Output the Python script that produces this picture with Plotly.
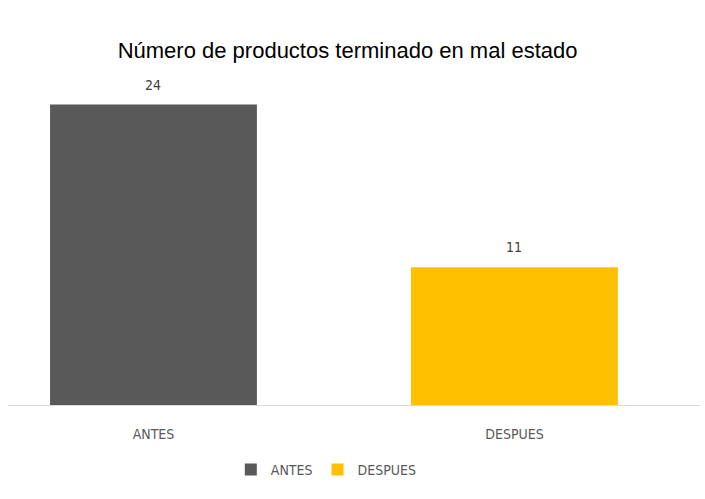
import plotly.graph_objects as go

# Chart data
categories = ["ANTES", "DESPUES"]
values = [24, 11]
colors = ["#595959", "#FFC000"]

title_text = "Número de productos terminado en mal estado"
label_font = "DejaVu Sans Condensed, Liberation Sans Narrow, Arial Narrow, sans-serif"

fig = go.Figure()
for cat, val, col in zip(categories, values, colors):
    fig.add_trace(go.Bar(
        x=[cat], y=[val], name=cat,
        marker=dict(color=col, line=dict(width=0)),
        width=0.573,
    ))
    # value label above each bar
    fig.add_annotation(
        x=cat, y=val, text=str(val), showarrow=False,
        yanchor="bottom", yshift=10,
        font=dict(family=label_font, size=14, color="#404040"),
    )

fig.update_layout(
    width=705, height=499,
    margin=dict(l=8, r=5, t=80, b=94),
    paper_bgcolor="white", plot_bgcolor="white",
    barmode="overlay",
    title=dict(text=title_text, x=0.493, xanchor="center", y=0.90, yanchor="middle",
               font=dict(family="Liberation Sans, Arial, sans-serif", size=22, color="#000000")),
    xaxis=dict(
        type="category", categoryorder="array", categoryarray=categories,
        range=[-0.403, 1.514],
        showline=True, linecolor="#d9d9d9", linewidth=1,
        ticks="", showgrid=False, zeroline=False,
        ticklabelstandoff=16,
        tickfont=dict(family=label_font, size=14, color="#595959"),
    ),
    yaxis=dict(range=[0, 25.96], visible=False, showgrid=False, zeroline=False),
    legend=dict(orientation="h", x=0.46, xanchor="center", y=-0.2, yanchor="middle",
                font=dict(family=label_font, size=14, color="#595959"),
                itemwidth=30, traceorder="normal"),
    showlegend=True,
)

fig.write_html("out.html")
